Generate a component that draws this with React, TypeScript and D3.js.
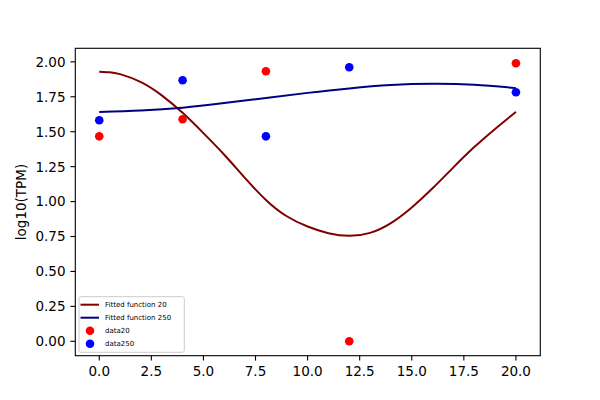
import React from 'react';
import * as d3 from 'd3';

const width = 600;
const height = 400;
const margin = { top: 48.3, right: 59.7, bottom: 44.3, left: 75.3 };

// sample times
const timesData = [0, 4, 8, 12, 20];
const data20 = [1.467, 1.589, 1.933, 0.0, 1.99];
const data250 = [1.582, 1.868, 1.467, 1.961, 1.782];

// fitted curves
const fit20X = [0, 0.5, 1, 2, 3, 4, 5, 6, 7, 8, 9, 10, 11, 12, 13, 14, 15, 16, 17, 18, 19, 20];
const fit20Y = [1.93, 1.926, 1.912, 1.855, 1.76, 1.635, 1.49, 1.335, 1.168, 1.012, 0.895, 0.822, 0.774, 0.755, 0.776, 0.846, 0.958, 1.095, 1.245, 1.39, 1.52, 1.642];
const fit250X = [0, 2, 4, 6, 8, 10, 12, 14, 16, 18, 20];
const fit250Y = [1.642, 1.652, 1.672, 1.705, 1.742, 1.778, 1.81, 1.834, 1.843, 1.836, 1.812];

const xTicks = [0, 2.5, 5, 7.5, 10, 12.5, 15, 17.5, 20];
const yTicks = [0, 0.25, 0.5, 0.75, 1.0, 1.25, 1.5, 1.75, 2.0];

const legendItems = [
    { label: 'Fitted function 20', kind: 'line', color: '#800000' },
    { label: 'Fitted function 250', kind: 'line', color: '#000080' },
    { label: 'data20', kind: 'dot', color: 'red' },
    { label: 'data250', kind: 'dot', color: 'blue' },
];

const font = 'DejaVu Sans, sans-serif';

const Chart = () => {
    const x0 = margin.left;
    const x1 = width - margin.right;
    const y0 = height - margin.bottom;
    const y1 = margin.top;

    const xScale = d3.scaleLinear().domain([-1.15, 21.17]).range([x0, x1]);
    const yScale = d3.scaleLinear().domain([-0.103, 2.097]).range([y0, y1]);

    const line = d3.line<[number, number]>()
        .x(d => xScale(d[0]))
        .y(d => yScale(d[1]))
        .curve(d3.curveNatural);

    const path20 = line(fit20X.map((v, i) => [v, fit20Y[i]]) as [number, number][]) || '';
    const path250 = line(fit250X.map((v, i) => [v, fit250Y[i]]) as [number, number][]) || '';

    const fmtX = d3.format('.1f');
    const fmtY = d3.format('.2f');

    const lx = 79;
    const ly = 296.7;

    return (
        <svg width={width} height={height} style={{ position: 'fixed', left: 0, top: 0, background: '#fff' }}>
            <rect x={0} y={0} width={width} height={height} fill="#fff" />

            {/* curves */}
            <path d={path20} fill="none" stroke="#800000" strokeWidth={2} />
            <path d={path250} fill="none" stroke="#000080" strokeWidth={2} />

            {/* scatter */}
            {timesData.map((t, i) => (
                <circle key={'r' + i} cx={xScale(t)} cy={yScale(data20[i])} r={4.3} fill="red" />
            ))}
            {timesData.map((t, i) => (
                <circle key={'b' + i} cx={xScale(t)} cy={yScale(data250[i])} r={4.3} fill="blue" />
            ))}

            {/* frame */}
            <rect x={x0} y={y1} width={x1 - x0} height={y0 - y1} fill="none" stroke="#000" strokeWidth={1.1} />

            {/* x axis */}
            {xTicks.map(t => (
                <g key={'xt' + t}>
                    <line x1={xScale(t)} x2={xScale(t)} y1={y0} y2={y0 + 4.9} stroke="#000" strokeWidth={1.1} />
                    <text x={xScale(t)} y={y0 + 20.5} textAnchor="middle" fontFamily={font} fontSize={13.5} fill="#000">
                        {fmtX(t)}
                    </text>
                </g>
            ))}

            {/* y axis */}
            {yTicks.map(t => (
                <g key={'yt' + t}>
                    <line x1={x0 - 4.9} x2={x0} y1={yScale(t)} y2={yScale(t)} stroke="#000" strokeWidth={1.1} />
                    <text x={x0 - 9.8} y={yScale(t)} dy="0.36em" textAnchor="end" fontFamily={font} fontSize={13.5} fill="#000">
                        {fmtY(t)}
                    </text>
                </g>
            ))}

            <text
                transform={`translate(26,${(y0 + y1) / 2}) rotate(-90)`}
                textAnchor="middle"
                fontFamily={font}
                fontSize={13.5}
                fill="#000"
            >
                log10(TPM)
            </text>

            {/* legend */}
            <rect x={lx} y={ly} width={105.3} height={55.6} rx={2} fill="#fff" fillOpacity={0.8} stroke="#ccc" strokeWidth={1} />
            {legendItems.map((item, i) => {
                const cy = ly + 8 + i * 13;
                return (
                    <g key={item.label}>
                        {item.kind === 'line'
                            ? <line x1={lx + 1.5} x2={lx + 20} y1={cy} y2={cy} stroke={item.color} strokeWidth={2} />
                            : <circle cx={lx + 11} cy={cy} r={4.3} fill={item.color} />}
                        <text x={lx + 26} y={cy} dy="0.35em" fontFamily={font} fontSize={7} fill="#000">
                            {item.label}
                        </text>
                    </g>
                );
            })}
        </svg>
    );
};

export const App = () => <Chart />;

export default App;
